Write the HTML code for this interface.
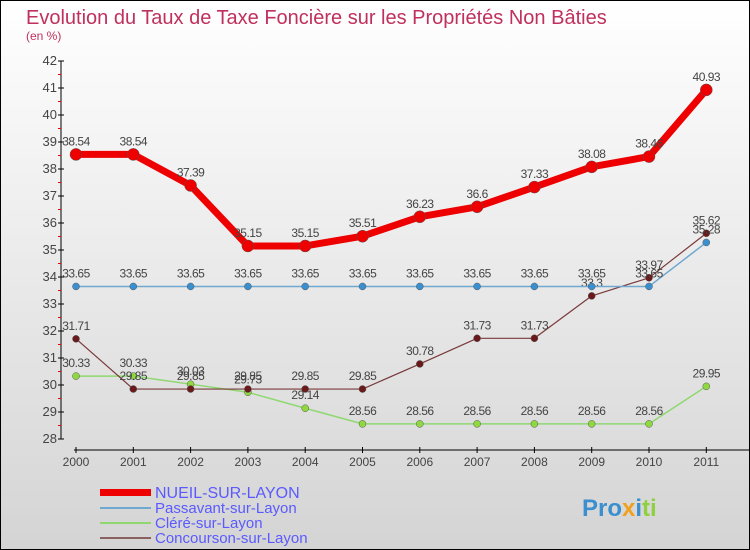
<!DOCTYPE html>
<html><head><meta charset="utf-8"><style>
body{margin:0}
svg{display:block;font-family:"Liberation Sans",sans-serif}
</style></head><body>
<svg width="750" height="550" viewBox="0 0 750 550">
<defs><linearGradient id="bg" x1="0" y1="0" x2="0" y2="1"><stop offset="0" stop-color="#ffffff"/><stop offset="1" stop-color="#d4d4d4"/></linearGradient></defs>
<rect x="0.5" y="0.5" width="749" height="549" fill="url(#bg)" stroke="#000"/>
<text x="26" y="24" font-size="20" fill="#c0305e">Evolution du Taux de Taxe Foncière sur les Propriétés Non Bâties</text>
<text x="26" y="40" font-size="12" fill="#c0305e">(en %)</text>
<g id="axes"></g><g id="series"></g>
<g>
<rect x="100" y="489" width="51" height="7" fill="#e00"/>
<line x1="100" y1="508" x2="151" y2="508" stroke="#6fa8d0" stroke-width="2"/>
<line x1="100" y1="523" x2="151" y2="523" stroke="#8fd870" stroke-width="2"/>
<line x1="100" y1="538" x2="151" y2="538" stroke="#8a6060" stroke-width="2"/>
<text x="155" y="498" font-size="16" fill="#5a5aff">NUEIL-SUR-LAYON</text>
<text x="155" y="513" font-size="15" fill="#5a5aff">Passavant-sur-Layon</text>
<text x="155" y="528" font-size="15" fill="#5a5aff">Cléré-sur-Layon</text>
<text x="155" y="543" font-size="15" fill="#5a5aff">Concourson-sur-Layon</text>
</g>
<g font-size="24" font-weight="bold">
<text x="582" y="516"><tspan fill="#3a8fd0">Pro</tspan><tspan fill="#f0a020">x</tspan><tspan fill="#3a8fd0">i</tspan><tspan fill="#8fd040">ti</tspan></text>
</g>
</svg>
<script>
const years=["2000","2001","2002","2003","2004","2005","2006","2007","2008","2009","2010","2011"];
const nueil=[38.54,38.54,37.39,35.15,35.15,35.51,36.23,36.6,37.33,38.08,38.46,40.93];
const passavant=[33.65,33.65,33.65,33.65,33.65,33.65,33.65,33.65,33.65,33.65,33.65,35.28];
const clere=[30.33,30.33,30.03,29.73,29.14,28.56,28.56,28.56,28.56,28.56,28.56,29.95];
const concourson=[31.71,29.85,29.85,29.85,29.85,29.85,30.78,31.73,31.73,33.3,33.97,35.62];
const yTicks=[28,29,30,31,32,33,34,35,36,37,38,39,40,41,42];
const NS="http://www.w3.org/2000/svg";
const xs=i=>76+i*57.3;
const ys=v=>61+(42-v)*27;
function mk(t,a,p){const e=document.createElementNS(NS,t);for(const k in a)e.setAttribute(k,a[k]);p.appendChild(e);return e;}
const ax=document.getElementById('axes');
mk('line',{x1:61,y1:61,x2:61,y2:439,stroke:'#000'},ax);
mk('line',{x1:74,y1:450,x2:750,y2:450,stroke:'#000'},ax);
yTicks.forEach(v=>{
 mk('line',{x1:58,y1:ys(v),x2:64,y2:ys(v),stroke:'#000'},ax);
 if(v<42)mk('line',{x1:58,y1:ys(v+0.5),x2:61,y2:ys(v+0.5),stroke:'#e00'},ax);
 const t=mk('text',{x:57,y:ys(v)+4,'font-size':13,'text-anchor':'end',fill:'#444'},ax);
 
 
 t.textContent=v;
});
years.forEach((y,i)=>{
 mk('line',{x1:xs(i),y1:447,x2:xs(i),y2:453,stroke:'#000'},ax);
 const t=mk('text',{x:xs(i),y:466,'font-size':12,'text-anchor':'middle',fill:'#444'},ax);
 
 
 t.textContent=y;
});
const sg=document.getElementById('series');
function series(name,data,color,w,r,dot){
 const g=mk('g',{},sg);
 
 
 mk('polyline',{points:data.map((v,i)=>xs(i)+','+ys(v)).join(' '),fill:'none',stroke:color,'stroke-width':w,'stroke-linejoin':'round'},g);
 data.forEach((v,i)=>{
  const c=mk('circle',{cx:xs(i),cy:ys(v),r:r,fill:dot,stroke:'#555','stroke-width':0.5},g);
  
  
  const t=mk('text',{x:xs(i),y:ys(v)-9,'font-size':12,'text-anchor':'middle',fill:'#444','letter-spacing':'-0.5'},g);
  
  
  t.textContent=v;
 });
}
series('clere',clere,'#8fd870',1.5,3.5,'#8fd840');
series('concourson',concourson,'#7a3a3a',1.2,3.5,'#6a1a1a');
series('passavant',passavant,'#6fa8d0',1.5,3.5,'#3a8fd0');
series('nueil',nueil,'#e00',7,6,'#e00');
</script>
</body></html>
